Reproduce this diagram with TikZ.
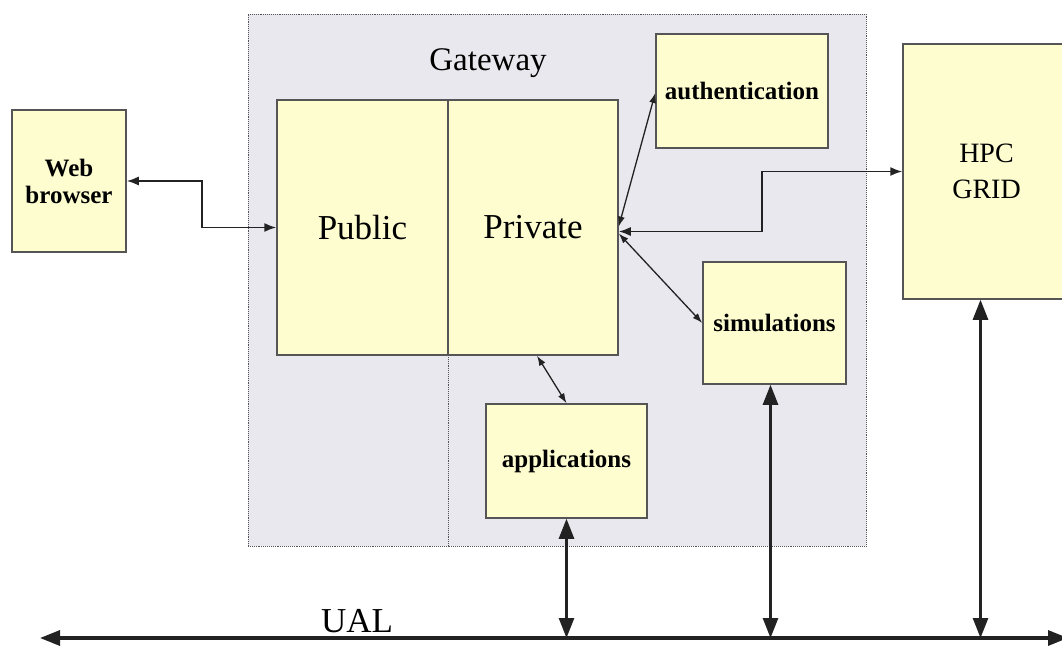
\documentclass[tikz,border=0pt]{standalone}
\usepackage{fontspec}
\setmainfont{Liberation Serif}
\usetikzlibrary{arrows.meta}
\definecolor{boxfill}{HTML}{FDFDD0}
\definecolor{boxline}{HTML}{555555}
\definecolor{gwfill}{HTML}{E9E8EE}
\definecolor{lnk}{HTML}{222222}
\begin{document}
\begin{tikzpicture}[x=1pt,y=-1pt,
  ybox/.style={draw=boxline, line width=1.5pt, fill=boxfill, inner sep=0pt, align=center},
  small/.style={font=\fontsize{25}{29}\selectfont\bfseries},
  big/.style={font=\fontsize{35}{40}\selectfont},
  thinlink/.style={draw=lnk, line width=1.3pt, {Latex[length=10,width=7]}-{Latex[length=10,width=7]}},
  midlink/.style={draw=lnk, line width=1.6pt, {Latex[length=12,width=9]}-{Latex[length=12,width=9]}},
  buslink/.style={draw=lnk, line width=2.6pt, {Triangle[length=20,width=15]}-{Triangle[length=20,width=15]}}
]
\useasboundingbox (0,0) rectangle (1062,648);
\fill[white] (0,0) rectangle (1062,648);

% Gateway region
\node[draw=boxline, densely dotted, line width=0.9pt, fill=gwfill, minimum width=618, minimum height=532, inner sep=0pt] (gw) at (557,280) {};
\node[font=\fontsize{33}{40}\selectfont] (gwlabel) at (488,63) {Gateway};
\draw[boxline, densely dotted, line width=0.9pt] (448,355) -- (448,546);

% Boxes
\node[ybox, minimum width=114, minimum height=142, small] (web) at (69,181) {Web\\[-2pt]browser};
\node[ybox, minimum width=171, minimum height=255, big] (public) at (362.5,227.5) {Public};
\node[ybox, minimum width=170, minimum height=255, big] (private) at (533,227.5) {Private};
\node[ybox, minimum width=172, minimum height=114, small] (auth) at (742,91) {authentication};
\node[ybox, minimum width=143, minimum height=122, small] (sim) at (774.5,323) {simulations};
\node[ybox, minimum width=161, minimum height=114, small] (apps) at (566.5,461) {applications};
\node[ybox, minimum width=167, minimum height=255, font=\fontsize{28}{36}\selectfont] (hpc) at (986.5,171.5) {HPC\\GRID};

% UAL bus
\coordinate (ualL) at (40,638);
\coordinate (ualR) at (1068,638);
\draw[buslink, line width=3.2pt] (ualL) -- (ualR);
\node[big] (ual) at (357,621) {UAL};

% Connectors
\draw[midlink] (web.east) -- (202,181) |- (public.west);
\draw[midlink] ([yshift=-4]private.east) -- (762,231.5) |- (hpc.west);
\draw[thinlink] ([yshift=1]private.east) -- ([yshift=-2]auth.west);
\draw[thinlink] ([yshift=-6]private.east) -- (sim.west);
\draw[thinlink] ([xshift=4]private.south) -- (apps.north);
\draw[buslink] (apps.south) -- (apps.south |- ualL);
\draw[buslink] ([xshift=-4]sim.south) -- ([xshift=-4]sim.south |- ualL);
\draw[buslink] ([xshift=-6]hpc.south) -- ([xshift=-6]hpc.south |- ualL);
\end{tikzpicture}
\end{document}
